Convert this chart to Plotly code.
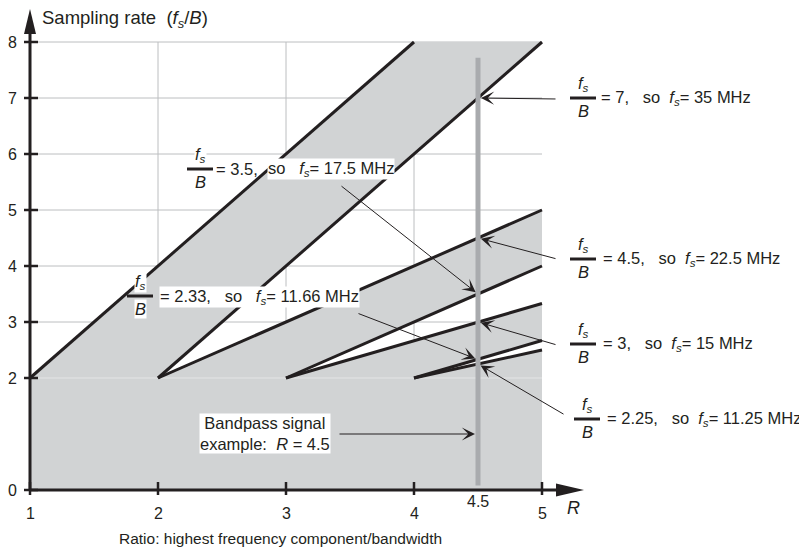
import plotly.graph_objects as go

# ---------------- data ----------------
B_MHZ = 5
R_EXAMPLE = 4.5
x_ticks = [1, 2, 3, 4, 5]
y_ticks = [0, 2, 3, 4, 5, 6, 7, 8]
x_grid = [2, 3, 4]
y_grid = [2, 3, 4, 5, 6, 7, 8]

# boundary lines (R, fs/B)
line_A_R = [1, 4];  line_A_f = [2, 8]
line_B_R = [2, 5];  line_B_f = [2, 8]
line_C_R = [2, 5];  line_C_f = [2, 5]
line_D_R = [3, 5];  line_D_f = [2, 4]
line_E_R = [3, 5];  line_E_f = [2, 3.33]
line_F_R = [4, 5];  line_F_f = [2, 2.67]
line_G_R = [4, 5];  line_G_f = [2, 2.5]

ratio_values = [7, 4.5, 3.5, 3, 2.33, 2.25]
ratio_text = ["7", "4.5", "3.5", "3", "2.33", "2.25"]
fs_text = ["35", "22.5", "17.5", "15", "11.66", "11.25"]
bar_bottom = 0.08
bar_top = 7.72
bandpass_arrow_y = 1

# ---------------- pixel helpers (layout only; page pixels) ----------------
PAGE_OFF = 8            # default body margin of the html page
W, H = 807 - PAGE_OFF, 555 - PAGE_OFF
XP0, XS = 30, 128.0     # page pixel of R=1, pixels per unit
YP0, YS = 490, 56.0     # page pixel of fs/B=0, pixels per unit
def px_x(p): return 1 + (p - XP0) / XS
def px_y(p): return (YP0 - p) / YS
def d2px_x(v): return XP0 + (v - 1) * XS
def d2px_y(v): return YP0 - v * YS

FONT = "Liberation Sans, Arial, Helvetica, sans-serif"
BLACK = "#231f20"
GRAY = "#d1d3d4"
GRID = "#bcbec0"
BAR = "#a9abae"
LBL = 16.5
NB = "\u00a0"

fig = go.Figure()

# grid lines (under the gray region)
shapes = []
for gx in x_grid:
    shapes.append(dict(type="line", xref="x", yref="y", x0=gx, x1=gx, y0=0, y1=8,
                       line=dict(color=GRID, width=1), layer="below"))
for gy in y_grid:
    shapes.append(dict(type="line", xref="x", yref="y", x0=1, x1=5, y0=gy, y1=gy,
                       line=dict(color=GRID, width=1), layer="below"))

# gray (forbidden) region polygon built from the boundary lines
poly_x = [1, 5, line_G_R[1], line_G_R[0], line_F_R[1], line_E_R[1], line_E_R[0],
          line_D_R[1], line_C_R[1], line_C_R[0], line_B_R[1], line_A_R[1], line_A_R[0], 1]
poly_y = [0, 0, line_G_f[1], line_G_f[0], line_F_f[1], line_E_f[1], line_E_f[0],
          line_D_f[1], line_C_f[1], line_C_f[0], line_B_f[1], line_A_f[1], line_A_f[0], 0]
fig.add_trace(go.Scatter(x=poly_x, y=poly_y, fill="toself", fillcolor=GRAY,
                         mode="lines", line=dict(width=0), hoverinfo="skip"))
# faint seam at fs/B = 2
fig.add_trace(go.Scatter(x=[1, 5], y=[2, 2], mode="lines",
                         line=dict(color="#e4e5e6", width=1), hoverinfo="skip"))

for lr, lf in [(line_A_R, line_A_f), (line_B_R, line_B_f), (line_C_R, line_C_f),
               (line_D_R, line_D_f), (line_E_R, line_E_f), (line_F_R, line_F_f),
               (line_G_R, line_G_f)]:
    fig.add_trace(go.Scatter(x=lr, y=lf, mode="lines",
                             line=dict(color=BLACK, width=3), hoverinfo="skip"))

# vertical example bar at R = 4.5
fig.add_trace(go.Scatter(x=[R_EXAMPLE, R_EXAMPLE], y=[bar_bottom, bar_top], mode="lines",
                         line=dict(color=BAR, width=5), hoverinfo="skip"))

# axes (lines, arrows, ticks)
ax0 = d2px_x(1)
ay0 = d2px_y(0)
shapes.append(dict(type="line", xref="x", yref="y", x0=1, x1=1, y0=0, y1=px_y(30),
                   line=dict(color=BLACK, width=3), layer="above"))
shapes.append(dict(type="line", xref="x", yref="y", x0=1, x1=px_x(560), y0=0, y1=0,
                   line=dict(color=BLACK, width=3), layer="above"))
shapes.append(dict(type="path", xref="x", yref="y", layer="above", line=dict(width=0),
                   fillcolor=BLACK,
                   path=f"M{px_x(ax0-6)},{px_y(34)} L{px_x(ax0)},{px_y(9)} L{px_x(ax0+6)},{px_y(34)} Z"))
shapes.append(dict(type="path", xref="x", yref="y", layer="above", line=dict(width=0),
                   fillcolor=BLACK,
                   path=f"M{px_x(556)},{px_y(ay0-6.5)} L{px_x(584)},{px_y(ay0)} L{px_x(556)},{px_y(ay0+6.5)} Z"))
for t in x_ticks:
    shapes.append(dict(type="line", xref="x", yref="y", x0=t, x1=t,
                       y0=px_y(ay0 + 5), y1=px_y(ay0 - 8),
                       line=dict(color=BLACK, width=2.5), layer="above"))
for t in y_ticks:
    shapes.append(dict(type="line", xref="x", yref="y", y0=t, y1=t,
                       x0=px_x(ax0 - 6), x1=px_x(ax0 + 8),
                       line=dict(color=BLACK, width=2.5), layer="above"))

annotations = []
def txt(text, xp, yp, xanchor="left", size=LBL, bg=None, yanchor="middle"):
    a = dict(text=text, x=px_x(xp), y=px_y(yp), xref="x", yref="y", showarrow=False,
             xanchor=xanchor, yanchor=yanchor, font=dict(family=FONT, size=size, color=BLACK),
             borderpad=0)
    if bg:
        a["bgcolor"] = bg
    annotations.append(a)

# tick labels
for t in x_ticks:
    annotations.append(dict(text=str(t), x=t, y=px_y(ay0 + 23), xref="x", yref="y",
                            showarrow=False, xanchor="center", yanchor="middle",
                            font=dict(family=FONT, size=16, color=BLACK)))
for t in y_ticks:
    annotations.append(dict(text=str(t), x=px_x(ax0 - 18), y=t, xref="x", yref="y",
                            showarrow=False, xanchor="center", yanchor="middle",
                            font=dict(family=FONT, size=16, color=BLACK)))
annotations.append(dict(text=str(R_EXAMPLE), x=R_EXAMPLE, y=px_y(ay0 + 11), xref="x", yref="y",
                        showarrow=False, xanchor="center", yanchor="middle",
                        font=dict(family=FONT, size=16, color=BLACK)))

# titles
txt(f"Sampling rate{NB}{NB}(<i>f<sub>s</sub></i>/<i>B</i>)", 41, 19, size=18.5)
txt("<i>R</i>", 573, 508, xanchor="center", size=18)
txt("Ratio: highest frequency component/bandwidth", 280, 538, xanchor="center", size=15.5)

FS = "<i>f<sub>s</sub></i>"

def fraction(cx, by, half=13, bg=None, dy_top=14, dy_bot=13):
    shapes.append(dict(type="line", xref="x", yref="y", x0=px_x(cx - half), x1=px_x(cx + half),
                       y0=px_y(by), y1=px_y(by), line=dict(color=BLACK, width=3), layer="above"))
    txt(FS, cx, by - dy_top, xanchor="center", bg=bg)
    txt("<i>B</i>", cx, by + dy_bot, xanchor="center", bg=bg)

# right-hand labels: (index, bar center x, bar y, text left)
right_cfg = [(0, 583, 98, 600), (1, 583, 259, 602), (3, 583, 344, 602), (5, 587, 419, 606)]
for i, cx, by, tl in right_cfg:
    fraction(cx, by)
    txt(f"= {ratio_text[i]},{NB}{NB} so{NB} {FS}= {fs_text[i]} MHz", tl, by)

# left label 3.5
fraction(200, 169, bg="white")
txt(f"= {ratio_text[2]},", 215, 169)
txt(f"so{NB}{NB} {FS}= {fs_text[2]} MHz", 267, 169, bg="white")
# left label 2.33
fraction(140, 296, bg="white")
txt(f"= {ratio_text[4]},{NB}{NB} so{NB}{NB} {FS}= {fs_text[4]} MHz", 159, 297, bg="white")

# bandpass box
txt(f"Bandpass signal<br>example:{NB} <i>R</i> = 4.5", 265, 433, xanchor="center", bg="white")

# arrows: (value, tail page-px x, tail page-px y)
arrow_cfg = [(ratio_values[0], 557, 99), (ratio_values[1], 557, 259), (ratio_values[3], 557, 345),
             (ratio_values[5], 565, 415), (ratio_values[2], 340, 185), (ratio_values[4], 357, 313),
             (bandpass_arrow_y, 338, 434)]
for v, tx, ty in arrow_cfg:
    hx, hy = d2px_x(R_EXAMPLE), d2px_y(v)
    annotations.append(dict(text="", x=R_EXAMPLE, y=v, xref="x", yref="y", showarrow=True,
                            ax=tx - hx, ay=ty - hy, axref="pixel", ayref="pixel",
                            arrowhead=3, arrowsize=2.2, arrowwidth=1, arrowcolor=BLACK,
                            standoff=3))

fig.update_layout(
    width=W, height=H, margin=dict(l=0, r=0, t=0, b=0, pad=0),
    paper_bgcolor="white", plot_bgcolor="white", showlegend=False,
    xaxis=dict(range=[px_x(PAGE_OFF), px_x(PAGE_OFF + W)], visible=False, fixedrange=True),
    yaxis=dict(range=[px_y(PAGE_OFF + H), px_y(PAGE_OFF)], visible=False, fixedrange=True),
    shapes=shapes, annotations=annotations,
)
fig.write_html("out.html")
